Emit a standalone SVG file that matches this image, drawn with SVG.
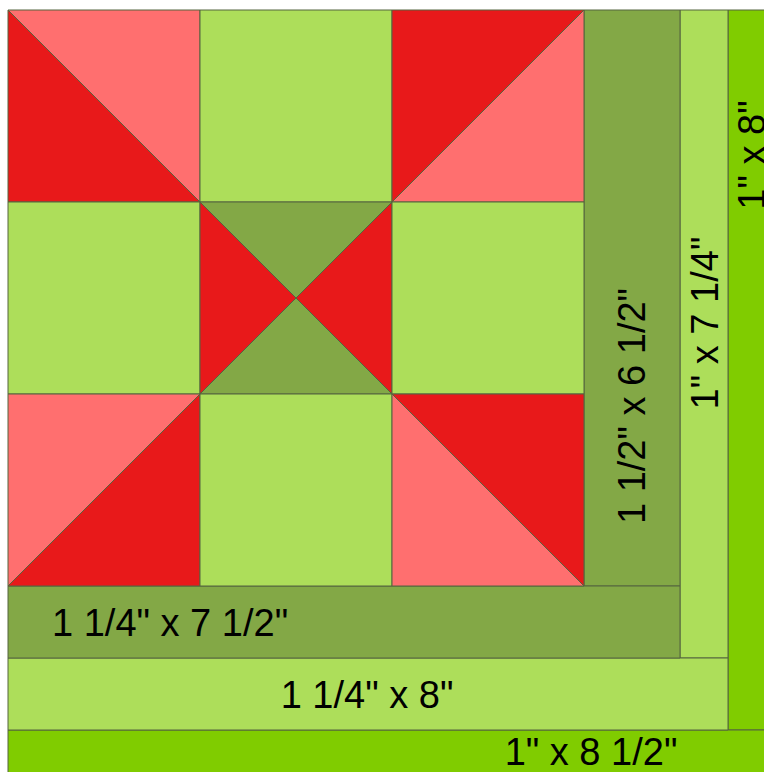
<svg xmlns="http://www.w3.org/2000/svg" width="764" height="772" viewBox="0 0 764 772">
  <style>
    .pink { fill: #FF6F6F; }
    .red { fill: #E8191A; }
    .lg { fill: #ADDE5A; }
    .dg { fill: #83A846; }
    .bg { fill: #80CC00; }
    .s { stroke: #55653F; stroke-width: 1; stroke-linejoin: round; }
    .t { font-family: "Liberation Sans", Arial, sans-serif; font-size: 38px; fill: #000; }
  </style>
  <rect x="0" y="0" width="764" height="772" fill="#ffffff"/>
  <g id="borders">
    <g id="strip-1x8-right"><rect class="bg s" x="728" y="10" width="44" height="720"/></g>
    <g id="strip-1x8half-bottom"><rect class="bg s" x="8" y="730" width="764" height="50"/></g>
    <g id="strip-1x7q-right"><rect class="lg s" x="680" y="10" width="48" height="648"/></g>
    <g id="strip-1q-x8-bottom"><rect class="lg s" x="8" y="658" width="720" height="72"/></g>
    <g id="strip-1half-x6half-right"><rect class="dg s" x="584" y="10" width="96" height="576"/></g>
    <g id="strip-1q-x7half-bottom"><rect class="dg s" x="8" y="586" width="672" height="72"/></g>
  </g>
  <g id="cell-tl">
    <polygon class="red s" points="8,10 200,202 8,202"/>
    <polygon class="pink s" points="8,10 200,10 200,202"/>
  </g>
  <g id="cell-tc"><rect class="lg s" x="200" y="10" width="192" height="192"/></g>
  <g id="cell-tr">
    <polygon class="red s" points="392,10 584,10 392,202"/>
    <polygon class="pink s" points="584,10 584,202 392,202"/>
  </g>
  <g id="cell-ml"><rect class="lg s" x="8" y="202" width="192" height="192"/></g>
  <g id="cell-center">
    <polygon class="dg s" points="200,202 392,202 296,298"/>
    <polygon class="dg s" points="200,394 392,394 296,298"/>
    <polygon class="red s" points="200,202 296,298 200,394"/>
    <polygon class="red s" points="392,202 296,298 392,394"/>
  </g>
  <g id="cell-mr"><rect class="lg s" x="392" y="202" width="192" height="192"/></g>
  <g id="cell-bl">
    <polygon class="pink s" points="8,394 200,394 8,586"/>
    <polygon class="red s" points="200,394 200,586 8,586"/>
  </g>
  <g id="cell-bc"><rect class="lg s" x="200" y="394" width="192" height="192"/></g>
  <g id="cell-br">
    <polygon class="pink s" points="392,394 584,586 392,586"/>
    <polygon class="red s" points="392,394 584,394 584,586"/>
  </g>
  <g id="labels">
    <text class="t" x="52" y="636">1 1/4" x 7 1/2"</text>
    <text class="t" x="367" y="708" text-anchor="middle">1 1/4" x 8"</text>
    <text class="t" x="591" y="765" text-anchor="middle">1" x 8 1/2"</text>
    <text class="t" transform="translate(645,406) rotate(-90)" text-anchor="middle">1 1/2" x 6 1/2"</text>
    <text class="t" transform="translate(718,323) rotate(-90)" text-anchor="middle">1" x 7 1/4"</text>
    <text class="t" transform="translate(765,155) rotate(-90)" text-anchor="middle">1" x 8"</text>
  </g>
</svg>
